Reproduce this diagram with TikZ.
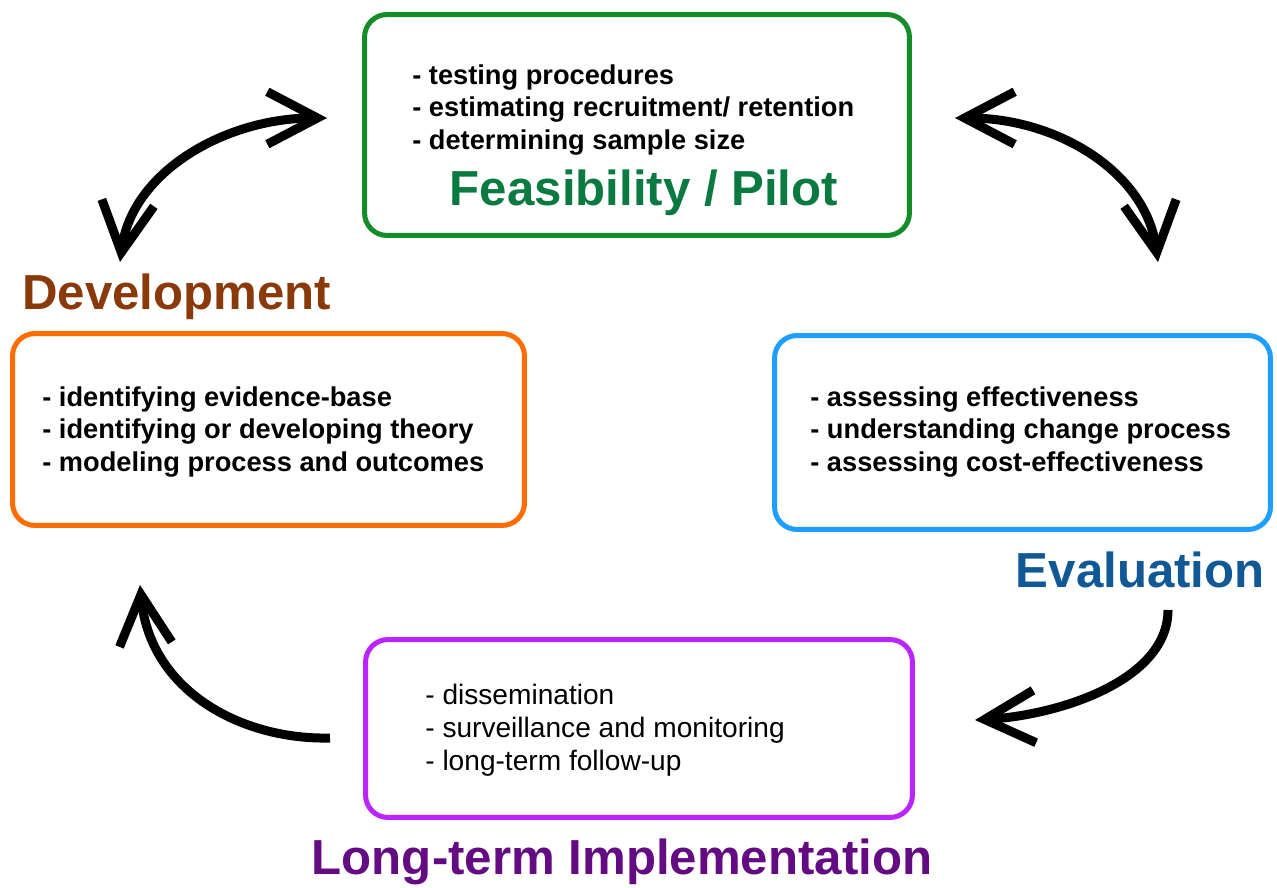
\documentclass[tikz,border=0pt]{standalone}
\usepackage{fontspec}
\setmainfont{Liberation Sans}
\usetikzlibrary{positioning,arrows.meta}
\definecolor{feasLine}{RGB}{20,140,40}
\definecolor{feasText}{RGB}{10,122,64}
\definecolor{develLine}{RGB}{255,108,0}
\definecolor{develText}{RGB}{138,58,10}
\definecolor{evalLine}{RGB}{30,158,255}
\definecolor{evalText}{RGB}{16,88,150}
\definecolor{implLine}{RGB}{186,36,255}
\definecolor{implText}{RGB}{100,10,130}
\tikzset{
  phaseBox/.style={rectangle, rounded corners=0.45cm, line width=0.1cm, draw, fill=white},
  listText/.style={align=left, anchor=west, inner sep=0pt, font={\bfseries\fontsize{15.5}{18.7}\selectfont}},
  phaseTitle/.style={inner sep=0pt, font={\bfseries\fontsize{28}{32}\selectfont}},
  cycleArrow/.style={line width=0.18cm, {Straight Barb[length=1cm,width=1.05cm]}-{Straight Barb[length=1cm,width=1.05cm]}},
  oneArrow/.style={line width=0.18cm, -{Straight Barb[length=1cm,width=1.05cm]}}
}
\begin{document}
\begin{tikzpicture}[x=0.02cm, y=-0.02cm]
      \useasboundingbox (0,0) rectangle (1277,888);

      % boxes
      \node[phaseBox, draw=feasLine, minimum width=10.9cm, minimum height=4.42cm] (feas) at (637,125) {};
      \node[phaseBox, draw=develLine, minimum width=10.24cm, minimum height=3.84cm] (devel) at (268.5,429.5) {};
      \node[phaseBox, draw=evalLine, minimum width=9.92cm, minimum height=3.88cm] (evalu) at (1022.5,432.5) {};
      \node[phaseBox, draw=implLine, minimum width=10.94cm, minimum height=3.56cm] (impl) at (639,728.5) {};

      % lists
      \node[listText] (feasList) at (412,110) {- testing procedures\\- estimating recruitment/ retention\\- determining sample size};
      \node[listText] (develList) at (42,432) {- identifying evidence-base\\- identifying or developing theory\\- modeling process and outcomes};
      \node[listText] (evalList) at (810,432) {- assessing effectiveness\\- understanding change process\\- assessing cost-effectiveness};
      \node[listText, font={\fontsize{16}{18.7}\selectfont}] (implList) at (425,730) {- dissemination\\- surveillance and monitoring\\- long-term follow-up};

      % titles
      \node[phaseTitle, text=feasText] (feasTitle) at (644,193) {Feasibility / Pilot};
      \node[phaseTitle, text=develText, anchor=west] (develTitle) at (22,297) {Development};
      \node[phaseTitle, text=evalText, anchor=east] (evalTitle) at (1265,570) {Evaluation};
      \node[phaseTitle, text=implText] (implTitle) at (622,862) {Long-term Implementation};

      % arrow ends
      \coordinate (aFeasL) at (327,118);
      \coordinate (aDevelT) at (120,262);
      \coordinate (aFeasR) at (955,118);
      \coordinate (aEvalT) at (1158,262);
      \coordinate (aImplL) at (330,738);
      \coordinate (aDevelB) at (140,585);
      \coordinate (aEvalB) at (1168,610);
      \coordinate (aImplR) at (975,720);

      \draw[cycleArrow] (aFeasL) .. controls (225,118) and (132,172) .. (aDevelT);
      \draw[cycleArrow] (aFeasR) .. controls (1057,118) and (1146,172) .. (aEvalT);
      \draw[oneArrow] (aImplL) .. controls (240,740) and (150,690) .. (aDevelB);
      \draw[oneArrow] (aEvalB) .. controls (1168,680) and (1060,715) .. (aImplR);

    \end{tikzpicture}
\end{document}
